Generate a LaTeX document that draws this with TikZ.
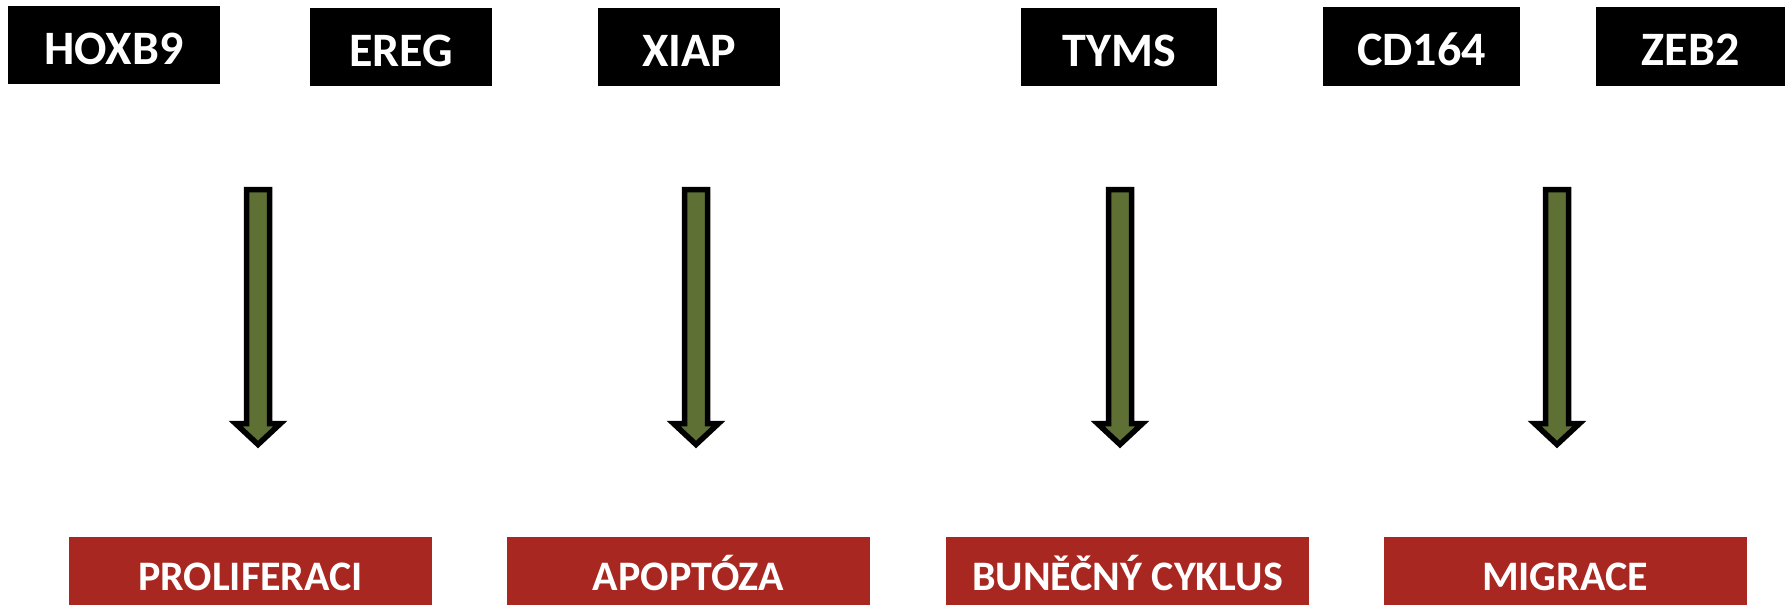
\documentclass[tikz,border=0pt]{standalone}
\usepackage{fontspec}
\setmainfont{Carlito}
\definecolor{boxred}{RGB}{168,39,33}
\definecolor{olivefill}{RGB}{94,112,52}
\tikzset{
  genebox/.style={rectangle, fill=black, text=white, inner sep=0pt,
    font=\fontsize{48}{50}\selectfont\bfseries, text height=38pt, text depth=0pt},
  procbox/.style={rectangle, fill=boxred, text=white, inner sep=0pt,
    minimum width=363pt, minimum height=68pt,
    font=\fontsize{42}{44}\selectfont\bfseries, text height=38pt, text depth=0pt},
  blockarrow/.style={draw=black, fill=olivefill, line width=5.5pt, line join=miter}
}
\newcommand\greenarrow[1]{%
  \draw[blockarrow, shift={(#1)}] (-11.5,0) -- (11.5,0) -- (11.5,234) -- (22.5,234) -- (0,255) -- (-22.5,234) -- (-11.5,234) -- cycle;}
\begin{document}
\begin{tikzpicture}[x=1pt,y=-1pt]
\useasboundingbox (0,0) rectangle (1785,605);
% gene boxes
\node[genebox, minimum width=212pt, minimum height=78pt] (hoxb9) at (114,45) {HOXB9};
\node[genebox, minimum width=182pt, minimum height=78pt] (ereg) at (401,47) {EREG};
\node[genebox, minimum width=182pt, minimum height=78pt] (xiap) at (689,47) {XIAP};
\node[genebox, minimum width=196pt, minimum height=78pt] (tyms) at (1119,47) {TYMS};
\node[genebox, minimum width=197pt, minimum height=79pt] (cd164) at (1421.5,46.5) {CD164};
\node[genebox, minimum width=189pt, minimum height=79pt] (zeb2) at (1690.5,46.5) {ZEB2};
% process boxes
\node[procbox] (prolif) at (250.5,571) {PROLIFERACI};
\node[procbox] (apopt) at (688.5,571) {APOPTÓZA};
\node[procbox] (cyklus) at (1127.5,571) {BUNĚČNÝ CYKLUS};
\node[procbox] (migr) at (1565,571) {MIGRACE};
% arrows
\coordinate (ar1) at (258,189.5);
\coordinate (ar2) at (696,189.5);
\coordinate (ar3) at (1120,189.5);
\coordinate (ar4) at (1557,189.5);
\greenarrow{ar1}
\greenarrow{ar2}
\greenarrow{ar3}
\greenarrow{ar4}
\end{tikzpicture}
\end{document}
